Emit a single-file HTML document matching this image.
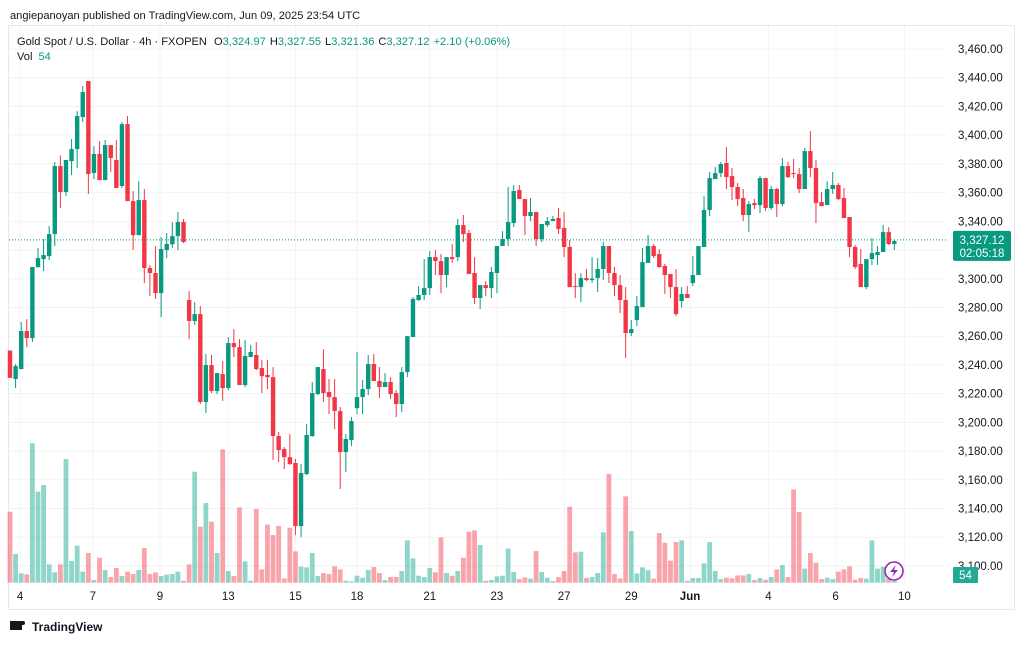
<!DOCTYPE html>
<html><head><meta charset="utf-8">
<style>
html,body{margin:0;padding:0;background:#fff;}
body{width:1024px;height:642px;overflow:hidden;font-family:"Liberation Sans","DejaVu Sans",sans-serif;}
svg text{font-family:"Liberation Sans","DejaVu Sans",sans-serif;}
</style></head>
<body>
<svg id="chart" width="1024" height="642" xmlns="http://www.w3.org/2000/svg">
<rect x="0" y="0" width="1024" height="642" fill="#fff"/>
<text x="10" y="19" font-size="11.1" fill="#131722">angiepanoyan published on TradingView.com, Jun 09, 2025 23:54 UTC</text>
<rect x="8.5" y="25.5" width="1006" height="584" fill="none" stroke="#e6e8ec"/>
<g id="grid"></g>
<g id="vols"></g>
<g id="candles"></g>
<line id="lastline" x1="9" x2="947" stroke="#089981" stroke-dasharray="1,2"/>
<g id="yaxis"></g>
<g id="xaxis"></g>
<text x="17" y="45" font-size="11.1" fill="#131722">Gold Spot / U.S. Dollar · 4h · FXOPEN <tspan dx="4">O</tspan><tspan fill="#089981">3,324.97</tspan><tspan dx="4">H</tspan><tspan fill="#089981">3,327.55</tspan><tspan dx="4">L</tspan><tspan fill="#089981">3,321.36</tspan><tspan dx="4">C</tspan><tspan fill="#089981">3,327.12</tspan><tspan dx="4" fill="#089981">+2.10 (+0.06%)</tspan></text>
<text x="17" y="60" font-size="11.1" fill="#131722">Vol <tspan dx="3" fill="#089981">54</tspan></text>
<g id="pricebox"></g>
<g><rect x="953" y="567" width="25" height="16" rx="1" fill="#22ab94"/><text x="965.5" y="579" font-size="11.5" fill="#fff" text-anchor="middle">54</text></g>
<g><circle cx="894" cy="571" r="9" fill="#fff" stroke="#9c27b0" stroke-width="1.6"/><path d="M896 565 L890 572 L894 572 L892 577 L898 570 L894 570 Z" fill="#9c27b0"/></g>
<g><rect x="10" y="621" width="12" height="9" fill="#131722"/><circle cx="23" cy="623" r="2" fill="#131722"/><text x="32" y="631" font-size="12" font-weight="bold" fill="#131722">TradingView</text></g>
</svg>
<script>
const opens=[3250,3230.2,3237.1,3263.6,3258.7,3308,3313.7,3315.8,3331.1,3378.5,3360.4,3381.9,3390.3,3412.6,3437.7,3373.6,3386.9,3368.7,3393.1,3382.7,3364.6,3407.7,3354.1,3330.4,3354.8,3307.5,3304,3290,3320,3324,3329.7,3339.5,3285.2,3270.6,3275.4,3214.2,3239.9,3221.8,3233.6,3223.9,3255.2,3252.4,3226,3245.5,3246.9,3237.8,3233,3231.5,3190.5,3181.4,3175.8,3171.7,3127.8,3164,3190.5,3219.7,3237.1,3221.1,3217.6,3207.9,3179.3,3187.7,3209.9,3217.6,3223.2,3240.6,3228.8,3224.6,3228.1,3220.4,3212.8,3235,3259.4,3285.2,3288.7,3293.5,3315.1,3312.3,3302.6,3315.1,3315.1,3337.4,3331.8,3304,3286.6,3295.6,3293.5,3304,3322.8,3327.7,3338.8,3361.8,3355.5,3343.7,3346.5,3327.7,3337.4,3340.2,3342.3,3335.4,3322.1,3294.9,3294.2,3300.5,3299.1,3300.5,3306.8,3322.8,3304,3295.6,3285.2,3262.2,3271.3,3280.3,3311,3322.8,3317.2,3308.9,3303.3,3294.2,3284.5,3289.4,3297,3302.6,3322.1,3347.9,3369.4,3373.6,3380.6,3371.5,3363.9,3356.2,3344.4,3352.7,3351.3,3370.1,3349.3,3362.5,3352,3378.5,3373.6,3372.9,3362.5,3388.9,3377.1,3353.4,3351.3,3362.5,3365.3,3356.2,3343,3322.1,3310.3,3294.2,3313.7,3316.5,3318.6,3332.5,3324.2];
const highs=[3250,3240.6,3269.9,3271.9,3308,3321.4,3327.7,3336.7,3381.3,3386,3382.7,3397.3,3416.8,3434.2,3437.7,3392.4,3395.9,3396.6,3393.1,3396.6,3409.1,3413.3,3361.1,3368,3362.5,3309.6,3322.8,3329.1,3331.8,3339.5,3346.5,3341.6,3291.5,3283.8,3281,3247.6,3246.9,3234.3,3242.7,3259.4,3264.9,3258,3257.3,3253.8,3255.9,3243.4,3243.4,3238.5,3193.3,3182.8,3191.9,3174.5,3171,3198.8,3228.1,3238.5,3251,3230.2,3230.2,3210.7,3191.9,3203.7,3249,3229.5,3246.9,3247.6,3238.5,3234.3,3231.5,3222.5,3238.5,3260.1,3287.3,3294.9,3313.7,3319.3,3320,3317.2,3315.1,3324.2,3341.6,3344.4,3334,3315.1,3295.6,3298.4,3308.2,3322.8,3333.2,3363.9,3365.3,3365.3,3355.5,3356.2,3346.5,3338.1,3343,3343.7,3349.3,3346.5,3327,3303.9,3303.9,3306.8,3315,3314.4,3325.6,3322.8,3308.2,3302.6,3294.2,3271.3,3287.9,3321.4,3330.4,3324.2,3320.7,3310.3,3303.3,3306.8,3294.2,3294.9,3315.8,3322.8,3357.6,3374.3,3377.8,3381.3,3391.7,3377.1,3366.7,3362.5,3354.1,3355.5,3371.5,3370.1,3364.6,3363.2,3384.1,3381.3,3383.4,3377.1,3391,3402.8,3382.7,3360.4,3368,3374.3,3366.7,3363.2,3343,3323.5,3320.7,3313.7,3328.4,3322.8,3337.4,3336,3327.1];
const lows=[3231,3223.9,3237,3252.4,3256,3308,3305.4,3313,3322.8,3349.3,3357.6,3372.2,3377.1,3409.1,3359,3369.4,3368.7,3368.7,3374.3,3363.2,3363.2,3354.1,3320,3330.4,3297,3288,3285.9,3273.3,3314.4,3321.4,3320,3324.9,3258,3267.8,3212.8,3206.6,3220.4,3219.7,3214.9,3222.5,3245.5,3226,3224.6,3245.5,3236.4,3220.4,3223.2,3173.8,3172.4,3167.5,3170.3,3121.5,3120,3163.3,3189.8,3219,3214.2,3205.8,3195.3,3153.6,3165.4,3183.5,3205.8,3205.8,3219,3228.8,3216.9,3224.6,3216.2,3203.7,3207.2,3231.5,3259.4,3284.5,3285.2,3288.7,3302.6,3290,3294.2,3310.9,3312.3,3325.6,3303.3,3282.4,3278.9,3288,3286.6,3290,3322.8,3322.8,3336,3355.5,3330.4,3340.2,3322.8,3325.6,3336,3340.2,3331.1,3315.1,3294.2,3286.6,3283.8,3298.4,3297,3290.8,3299.1,3297,3288,3276.1,3244.8,3260.1,3267.1,3280.3,3311,3314.4,3307.5,3289.4,3286.6,3274,3280,3286.6,3294.9,3302.6,3322.1,3343.7,3369.4,3370.8,3362.5,3354.8,3350.6,3340.2,3332.5,3348.6,3345.8,3347.2,3347.9,3343,3350.6,3370.1,3370.1,3359.7,3362.5,3370.8,3338.8,3350.6,3351.3,3359,3354.8,3342.3,3315.1,3306.8,3294.2,3292.8,3309.6,3309.6,3318.6,3323.5,3320];
const closes=[3231,3239.2,3263.6,3258.7,3308.2,3314.4,3316.5,3331.1,3378.5,3360.4,3382.7,3390.3,3413.3,3430,3372.9,3386.9,3368.7,3393.1,3384.1,3363.2,3407.7,3354.1,3330.4,3354.8,3307.5,3304,3290,3320.7,3324.2,3329.7,3339.5,3325.6,3270.6,3275.4,3214.2,3239.9,3221.8,3234.3,3223.9,3255.2,3252.4,3226,3246.2,3249,3237.1,3232.2,3231.5,3190.5,3180.7,3175.8,3171,3127.8,3164.7,3191.2,3220.4,3238.5,3220.4,3217.6,3207.9,3179.3,3188.4,3200.9,3217.6,3223.2,3240.6,3228.8,3224.6,3228.1,3219.7,3212.8,3235,3260.1,3285.9,3288.7,3293.5,3315.1,3312.3,3302.6,3315.1,3313.7,3337.4,3331.1,3303.3,3286.6,3295.6,3293.5,3304.7,3322.8,3327.7,3339.5,3361.1,3355.5,3343.7,3346.5,3327.7,3338.1,3340.2,3341.6,3334.7,3322.1,3294.2,3294.2,3300.5,3299.1,3300.1,3306.8,3322.8,3304,3295.6,3285.2,3262.2,3265,3281,3311.6,3322.8,3315.8,3308.2,3302.6,3294.2,3275.4,3289.4,3286.6,3302.6,3322.8,3347.9,3370.1,3373.6,3379.9,3370.8,3363.9,3355.5,3344.4,3352,3351.3,3370.1,3349.3,3362.5,3352,3378.5,3370.8,3372.9,3362.5,3388.9,3377.1,3352.7,3350.6,3362.5,3365.3,3355.5,3342.3,3322.1,3308.2,3294.2,3313.7,3317.9,3318.6,3332.5,3324.2,3326.3];
const volumes=[213,86,28,25,418,273,293,55,31,55,371,65,111,33,89,8,75,38,17,44,20,33,26,38,104,26,31,20,24,26,33,6,55,333,168,239,183,89,400,35,20,226,64,6,221,40,174,143,170,13,165,94,48,46,89,20,29,26,49,40,6,4,21,15,38,47,29,8,17,17,35,127,73,21,17,44,31,136,29,21,35,75,153,157,113,6,8,19,21,102,32,11,16,12,95,32,15,5,17,35,228,91,93,14,17,29,151,326,26,13,259,155,28,46,37,12,149,120,66,122,127,6,14,14,58,122,35,11,15,13,22,22,26,8,14,9,17,40,53,17,280,212,42,89,60,11,15,11,33,40,49,9,14,12,127,42,48,13,5];
const priceTicks=[3460,3440,3420,3400,3380,3360,3340,3320,3300,3280,3260,3240,3220,3200,3180,3160,3140,3120,3100];
const timeLabels=["4","7","9","13","15","18","21","23","27","29","Jun","4","6","10"];
const timeLabelIdx=[1.8,14.8,26.8,39,51,62,75,87,99,111,121.5,135.5,147.5,159.8];
const lastPrice=3327.12, lastCountdown="02:05:18";

const NS="http://www.w3.org/2000/svg";
function yP(p){return 49+(3460-p)*(28.72/20);}
function xI(i){return 10+i*5.597;}
function yV(v){return 582.7-v/3;}
function mk(tag,attrs,parent){const e=document.createElementNS(NS,tag);for(const k in attrs)e.setAttribute(k,attrs[k]);parent.appendChild(e);return e;}
const grid=document.getElementById('grid'),ya=document.getElementById('yaxis'),xa=document.getElementById('xaxis');
priceTicks.forEach(p=>{
  const l=mk('line',{x1:9,x2:947,y1:yP(p),y2:yP(p),stroke:'#f2f3f5'},grid);
  
  
  const t=mk('text',{x:958,y:yP(p)+4,'font-size':11.5,fill:'#131722'},ya);
  t.textContent=p.toLocaleString('en-US',{minimumFractionDigits:2});
  
  
});
timeLabels.forEach((s,k)=>{
  const x=xI(timeLabelIdx[k]);
  const l=mk('line',{x1:x,x2:x,y1:26,y2:583,stroke:'#f2f3f5'},grid);
  
  
  const t=mk('text',{x:x,y:600,'font-size':11.5,fill:'#131722','text-anchor':'middle','font-weight':s==='Jun'?'bold':'normal'},xa);
  t.textContent=s;
  
  
});
const vg=document.getElementById('vols'),cg=document.getElementById('candles');
opens.forEach((o,i)=>{
  const c=closes[i],up=c>=o,x=xI(i);
  const vb=mk('rect',{x:x-2.4,y:yV(volumes[i]),width:4.8,height:582.7-yV(volumes[i]),fill:up?'rgba(34,171,148,0.5)':'rgba(242,54,69,0.45)'},vg);
  
  
  const col=up?'#089981':'#f23645';
  const w=mk('line',{x1:x,x2:x,y1:yP(highs[i]),y2:yP(lows[i]),stroke:col,'stroke-width':1},cg);
  
  
  const top=yP(Math.max(o,c)),bot=yP(Math.min(o,c));
  const b=mk('rect',{x:x-2.2,y:top,width:4.4,height:Math.max(1,bot-top),fill:col},cg);
  
  
});
const ll=document.getElementById('lastline');ll.setAttribute('y1',yP(lastPrice));ll.setAttribute('y2',yP(lastPrice));
const pb=document.getElementById('pricebox'),py=yP(lastPrice);
mk('rect',{x:953,y:py-9,width:58,height:30,rx:2,fill:'#089981'},pb);
const t1=mk('text',{x:982,y:py+4,'font-size':11.5,fill:'#fff','text-anchor':'middle'},pb);t1.textContent=lastPrice.toLocaleString('en-US',{minimumFractionDigits:2});
const t2=mk('text',{x:982,y:py+17,'font-size':11.5,fill:'#fff','text-anchor':'middle'},pb);t2.textContent=lastCountdown;
</script>
</body></html>
